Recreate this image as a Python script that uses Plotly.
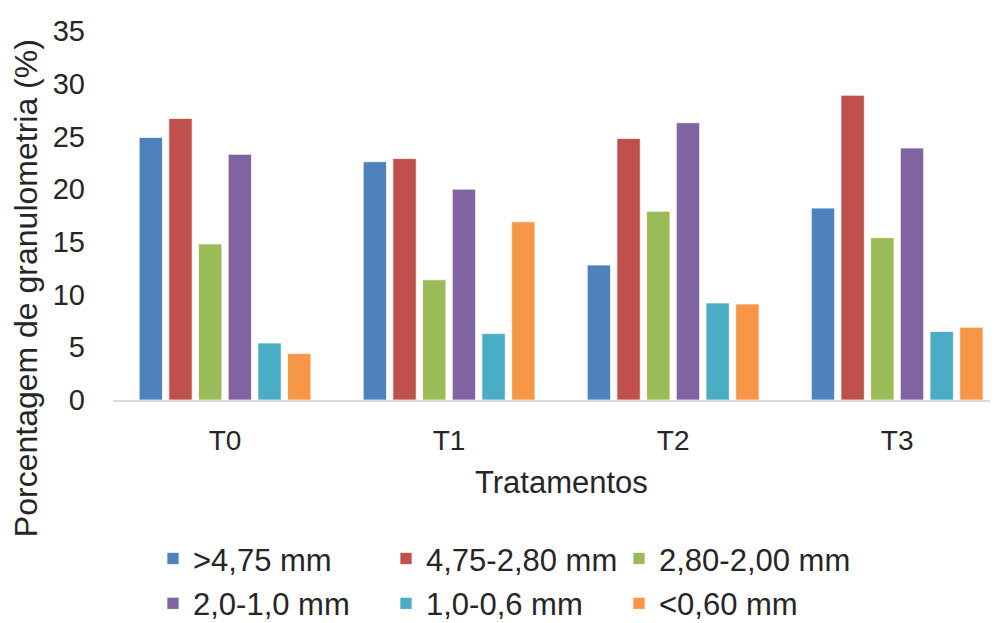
import plotly.graph_objects as go

categories = ["T0", "T1", "T2", "T3"]
series_names = [">4,75 mm", "4,75-2,80 mm", "2,80-2,00 mm", "2,0-1,0 mm", "1,0-0,6 mm", "<0,60 mm"]
s1 = [24.9, 22.6, 12.8, 18.2]
s2 = [26.7, 22.9, 24.8, 28.9]
s3 = [14.8, 11.4, 17.9, 15.4]
s4 = [23.3, 20.0, 26.3, 23.9]
s5 = [5.4, 6.3, 9.2, 6.5]
s6 = [4.4, 16.9, 9.1, 6.9]
series_values = [s1, s2, s3, s4, s5, s6]
colors = ["#4F81BD", "#C0504D", "#9BBB59", "#8064A2", "#4BACC6", "#F79646"]
y_ticks = [0, 5, 10, 15, 20, 25, 30, 35]

FONT = "Liberation Sans, Arial, sans-serif"
TXT = "#262626"

fig = go.Figure()
for i, (name, vals, col) in enumerate(zip(series_names, series_values, colors)):
    fig.add_trace(go.Bar(
        x=categories, y=vals, name=name,
        marker=dict(color=col, line=dict(color="rgba(255,255,255,0.7)", width=1)),
        legend="legend" if i < 3 else "legend2",
    ))

# page body adds an 8px offset; work in screen coords and subtract it
S = 8
W, H = 998, 623
L = 113 - S
T = 30.5 - S
R = W - (998 - S)
B = H - (400 - S)
pw = W - L - R
ph = H - T - B

def px(x):
    return (x - S - L) / pw

def py(y):
    return (H - B - (y - S)) / ph

leg_common = dict(
    orientation="h", xanchor="left", yanchor="middle",
    font=dict(family=FONT, size=31, color=TXT),
    entrywidth=188, entrywidthmode="pixels",
    bgcolor="rgba(0,0,0,0)", itemwidth=30,
)

fig.update_layout(
    template="none",
    width=W, height=H,
    margin=dict(l=L, r=R, t=T, b=B, autoexpand=False),
    paper_bgcolor="white", plot_bgcolor="white",
    barmode="group", bargap=0.205, bargroupgap=0.215,
    font=dict(family=FONT, color=TXT),
    xaxis=dict(
        range=[-0.5, 3.45], showgrid=False, zeroline=False, automargin=False,
        showline=True, linecolor="#D9D9D9", linewidth=2,
        tickfont=dict(size=28, color=TXT), ticks="", ticklabelstandoff=14,
    ),
    yaxis=dict(
        range=[0, 35], tickvals=y_ticks, showgrid=False, zeroline=False,
        automargin=False, showline=False, tickfont=dict(size=29, color=TXT),
        ticks="", ticklabelstandoff=27,
    ),
    legend=dict(x=px(153), y=py(559), **leg_common),
    legend2=dict(x=px(153), y=py(604), **leg_common),
    annotations=[
        dict(text="Porcentagem de granulometria (%)", xref="paper", yref="paper",
             x=px(26), y=py(288), xanchor="center", yanchor="middle",
             textangle=-90, showarrow=False, font=dict(size=32, color=TXT, family=FONT)),
        dict(text="Tratamentos", xref="paper", yref="paper",
             x=px(561), y=py(483), xanchor="center", yanchor="middle",
             showarrow=False, font=dict(size=31, color=TXT, family=FONT)),
    ],
)

fig.write_html("out.html")
